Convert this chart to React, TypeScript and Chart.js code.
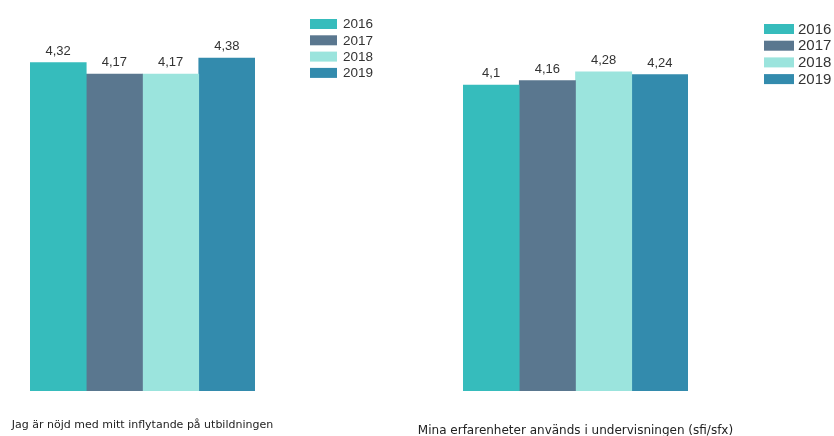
import React, { useEffect, useRef } from "react";
import { Chart, registerables } from "chart.js";

Chart.register(...registerables);

const years = ["2016", "2017", "2018", "2019"];
const colors = ["#36bcbc", "#5a778f", "#9be4dd", "#338bad"];
const leftCategory = ["Jag är nöjd med mitt inflytande på utbildningen"];
const rightCategory = ["Mina erfarenheter används i undervisningen (sfi/sfx)"];
const leftValues = [4.32, 4.17, 4.17, 4.38];
const rightValues = [4.1, 4.16, 4.28, 4.24];

type Cfg = {
  width: number;
  padding: { left: number; right: number; top: number; bottom: number };
  legend: { x: number; y: number; w: number; h: number; step: number; tx: number; size: number };
  catY: number;
  catSize: number;
};

const overlay = {
  id: "overlay",
  afterDatasetsDraw(chart: any, _a: any, opts: any) {
    const ctx = chart.ctx;
    ctx.save();
    // value labels
    ctx.fillStyle = "#333";
    ctx.font = "13px 'Liberation Sans', Arial, sans-serif";
    ctx.textAlign = "center";
    ctx.textBaseline = "alphabetic";
    chart.data.datasets.forEach((ds: any, i: number) => {
      const meta = chart.getDatasetMeta(i);
      meta.data.forEach((bar: any, j: number) => {
        const v = ds.data[j];
        ctx.fillText(String(v).replace(".", ","), bar.x, bar.y - 8);
      });
    });
    // category label
    const xs = chart.scales.x;
    ctx.fillStyle = "#222";
    ctx.font = `${opts.catSize}px 'DejaVu Sans', Verdana, sans-serif`;
    chart.data.labels.forEach((l: string, j: number) => {
      ctx.fillText(l, xs.getPixelForValue(j), opts.catY);
    });
    // legend
    const lg = opts.legend;
    ctx.textAlign = "left";
    ctx.textBaseline = "middle";
    ctx.font = `${lg.size}px 'Liberation Sans', Arial, sans-serif`;
    chart.data.datasets.forEach((ds: any, i: number) => {
      const y = lg.y + i * lg.step;
      ctx.fillStyle = ds.backgroundColor;
      ctx.fillRect(lg.x, y, lg.w, lg.h);
      ctx.fillStyle = "#333";
      ctx.fillText(ds.label, lg.tx, y + lg.h / 2 + 0.5);
    });
    ctx.restore();
  },
};

function BarPanel({ cats, values, cfg, left }: { cats: string[]; values: number[]; cfg: Cfg; left: number }) {
  const ref = useRef<HTMLCanvasElement>(null);
  useEffect(() => {
    const chart = new Chart(ref.current as HTMLCanvasElement, {
      type: "bar",
      data: {
        labels: cats,
        datasets: years.map((y, i) => ({
          label: y,
          data: [values[i]],
          backgroundColor: colors[i],
          borderWidth: 0,
          barPercentage: 1,
          categoryPercentage: 1,
        })),
      },
      options: {
        animation: false,
        responsive: false,
        devicePixelRatio: 1,
        layout: { padding: cfg.padding },
        scales: {
          x: { display: false },
          y: { display: false, min: 0, max: 5 },
        },
        plugins: {
          legend: { display: false },
          tooltip: { enabled: false },
          overlay: { legend: cfg.legend, catY: cfg.catY, catSize: cfg.catSize },
        } as any,
      },
      plugins: [overlay],
    });
    return () => chart.destroy();
  }, []);
  return (
    <canvas
      ref={ref}
      width={cfg.width}
      height={436}
      style={{ position: "absolute", left, top: 0, width: cfg.width, height: 436 }}
    />
  );
}

const leftCfg: Cfg = {
  width: 417,
  padding: { left: 30, right: 162, top: 11, bottom: 45 },
  legend: { x: 310, y: 19, w: 27, h: 10, step: 16.3, tx: 343, size: 13.5 },
  catY: 428,
  catSize: 11,
};
const rightCfg: Cfg = {
  width: 417,
  padding: { left: 46, right: 146, top: 18, bottom: 45 },
  legend: { x: 347, y: 24, w: 30, h: 10, step: 16.7, tx: 381, size: 15 },
  catY: 434,
  catSize: 12,
};

export default function App() {
  return (
    <div style={{ position: "absolute", left: 0, top: 0, width: 834, height: 436, background: "#fff" }}>
      <BarPanel cats={leftCategory} values={leftValues} cfg={leftCfg} left={0} />
      <BarPanel cats={rightCategory} values={rightValues} cfg={rightCfg} left={417} />
    </div>
  );
}
